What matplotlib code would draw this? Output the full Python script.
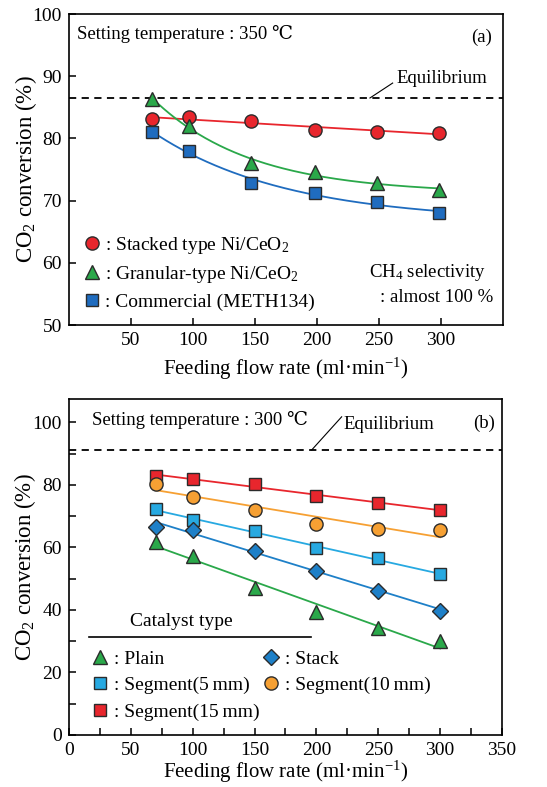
import numpy as np
import matplotlib
matplotlib.use("Agg")
import matplotlib.pyplot as plt
from matplotlib.ticker import MultipleLocator

plt.rcParams['font.family'] = ['Liberation Serif', 'DejaVu Serif']
plt.rcParams['mathtext.fontset'] = 'custom'
plt.rcParams['mathtext.rm'] = 'Liberation Serif'
plt.rcParams['mathtext.it'] = 'Liberation Serif:italic'

# ---------------- data (a) 350 C ----------------
flow_a = [67, 97, 147, 198, 248, 298]
stacked_a = [83.1, 83.4, 82.85, 81.35, 81.1, 80.9]
granular_a = [86.4, 82.0, 76.0, 74.6, 72.9, 71.7]
commercial_a = [81.0, 78.0, 72.8, 71.3, 69.7, 68.0]
equil_a = 86.5

# ---------------- data (b) 300 C ----------------
flow_b = [70, 100, 150, 200, 250, 300]
plain_b = [61.9, 57.4, 46.9, 39.5, 34.1, 30.2]
stack_b = [66.7, 65.6, 59.0, 52.6, 46.2, 39.8]
seg5_b = [72.3, 68.8, 65.2, 59.7, 56.5, 51.5]
seg10_b = [80.3, 76.3, 72.0, 67.5, 65.9, 65.5]
seg15_b = [83.0, 81.8, 80.2, 76.6, 74.1, 72.0]
equil_b = 91.2

RED = '#e8262d'
GREEN = '#2aa84a'
BLUE = '#1f6cbf'
LBLUE = '#27a9e1'
ORANGE = '#f6a033'
DBLUE = '#1e80c8'
EDGE = '#2b2b2b'


def exp_fit(x, y):
    x = np.asarray(x, float)
    y = np.asarray(y, float)
    best = None
    for c in np.linspace(0.002, 0.06, 600):
        A = np.column_stack([np.ones_like(x), np.exp(-c * x)])
        coef, *_ = np.linalg.lstsq(A, y, rcond=None)
        r = np.sum((A @ coef - y) ** 2)
        if best is None or r < best[0]:
            best = (r, c, coef)
    _, c, coef = best
    return lambda t: coef[0] + coef[1] * np.exp(-c * t)


def lin_fit(x, y):
    p = np.polyfit(x, y, 1)
    return lambda t: np.polyval(p, t)


fig = plt.figure(figsize=(5.47, 7.87), dpi=100)
ax1 = fig.add_axes([0.1261, 0.5870, 0.7935, 0.3952])
ax2 = fig.add_axes([0.1261, 0.0661, 0.7916, 0.4269])

FS_TICK = 14
FS_XLAB = 15
FS_YLAB = 16.5
FS_TXT = 13.5
FS_LEG = 14

for ax in (ax1, ax2):
    for s in ax.spines.values():
        s.set_linewidth(1.2)
    ax.tick_params(direction='in', length=5, width=1.1, labelsize=FS_TICK, pad=5)
    ax.tick_params(which='minor', direction='in', length=5, width=1.1)

ms = 9.5
# ---------------- panel (a) ----------------
xs = np.linspace(min(flow_a), max(flow_a), 200)
ax1.plot(xs, lin_fit(flow_a, stacked_a)(xs), color=RED, lw=1.3, zorder=2)
ax1.plot(xs, exp_fit(flow_a, granular_a)(xs), color=GREEN, lw=1.3, zorder=2)
ax1.plot(xs, exp_fit(flow_a, commercial_a)(xs), color=BLUE, lw=1.3, zorder=2)
h1, = ax1.plot(flow_a, stacked_a, 'o', ms=ms, mfc=RED, mec=EDGE, mew=1.0, ls='none', zorder=3)
h2, = ax1.plot(flow_a, granular_a, '^', ms=ms + 1, mfc=GREEN, mec=EDGE, mew=1.0, ls='none', zorder=3)
h3, = ax1.plot(flow_a, commercial_a, 's', ms=ms - 0.5, mfc=BLUE, mec=EDGE, mew=1.0, ls='none', zorder=3)
ax1.axhline(equil_a, color='black', lw=1.3, ls=(0, (4, 3)), zorder=1)
ax1.plot([242.7, 261], [equil_a, 88.9], color='black', lw=0.8)
ax1.text(264, 89.65, 'Equilibrium', fontsize=FS_TXT, ha='left', va='center')
ax1.text(0.018, 0.935, 'Setting temperature : 350 \u2103', transform=ax1.transAxes,
         fontsize=FS_TXT, ha='left', va='center')
ax1.text(0.975, 0.925, '(a)', transform=ax1.transAxes, fontsize=FS_TXT, ha='right', va='center')
ax1.text(0.960, 0.168, 'CH$_4$ selectivity', transform=ax1.transAxes, fontsize=FS_TXT,
         ha='right', va='center')
ax1.text(0.978, 0.088, ': almost 100 %', transform=ax1.transAxes, fontsize=FS_TXT,
         ha='right', va='center')
ax1.legend([h1, h2, h3],
           [': Stacked type Ni/CeO$_2$', ': Granular-type Ni/CeO$_2$', ': Commercial (METH134)'],
           loc='lower left', bbox_to_anchor=(0.030, 0.045), frameon=False, fontsize=FS_LEG,
           handlelength=1.0, handletextpad=0.2, labelspacing=0.42, borderpad=0, borderaxespad=0)
ax1.set_xlim(0, 350)
ax1.set_ylim(50, 100)
ax1.set_xticks([50, 100, 150, 200, 250, 300])
ax1.set_yticks([50, 60, 70, 80, 90, 100])
ax1.set_xlabel('Feeding flow rate (ml\u00b7min$^{-1}$)', fontsize=FS_XLAB, labelpad=5)
ax1.set_ylabel('CO$_2$ conversion (%)', fontsize=FS_YLAB)
ax1.yaxis.set_label_coords(-0.068, 0.5)

# ---------------- panel (b) ----------------
xs = np.linspace(min(flow_b), max(flow_b), 50)
series = [
    (plain_b, '^', GREEN, ms + 1, ': Plain'),
    (seg5_b, 's', LBLUE, ms - 1.5, ': Segment(5\u2009mm)'),
    (seg15_b, 's', RED, ms - 1.5, ': Segment(15\u2009mm)'),
    (stack_b, 'D', DBLUE, ms - 1.5, ': Stack'),
    (seg10_b, 'o', ORANGE, ms, ': Segment(10\u2009mm)'),
]
handles = []
labels = []
for y, m, c, s, lab in series:
    ax2.plot(xs, lin_fit(flow_b, y)(xs), color=c, lw=1.3, zorder=2)
for y, m, c, s, lab in series:
    h, = ax2.plot(flow_b, y, m, ms=s, mfc=c, mec=EDGE, mew=1.0, ls='none', zorder=3)
    handles.append(h)
    labels.append(lab)
ax2.axhline(equil_b, color='black', lw=1.3, ls=(0, (4, 3)), zorder=1)
ax2.plot([196.2, 220.4], [equil_b, 101.8], color='black', lw=0.8)
ax2.text(221.5, 99.4, 'Equilibrium', fontsize=FS_TXT, ha='left', va='center')
ax2.text(0.053, 0.937, 'Setting temperature : 300 \u2103', transform=ax2.transAxes,
         fontsize=FS_TXT, ha='left', va='center')
ax2.text(0.985, 0.927, '(b)', transform=ax2.transAxes, fontsize=FS_TXT, ha='right', va='center')
ax2.text(0.259, 0.337, 'Catalyst type', transform=ax2.transAxes, fontsize=FS_LEG,
         ha='center', va='center')
ax2.plot([0.046, 0.558], [0.2905, 0.2905], transform=ax2.transAxes, color='black', lw=1.2)
ax2.legend(handles, labels, ncol=2, loc='lower left', bbox_to_anchor=(0.05, 0.043),
           frameon=False, fontsize=FS_LEG, handlelength=1.0, handletextpad=0.2,
           labelspacing=0.45, columnspacing=0.1, borderpad=0, borderaxespad=0)
ax2.set_xlim(0, 350)
ax2.set_ylim(0, 107.5)
ax2.set_xticks(np.arange(0, 351, 50))
ax2.set_yticks(np.arange(0, 101, 20))
ax2.xaxis.set_minor_locator(MultipleLocator(25))
ax2.yaxis.set_minor_locator(MultipleLocator(10))
ax2.set_xlabel('Feeding flow rate (ml\u00b7min$^{-1}$)', fontsize=FS_XLAB, labelpad=0)
ax2.set_ylabel('CO$_2$ conversion (%)', fontsize=FS_YLAB)
ax2.yaxis.set_label_coords(-0.072, 0.5)

fig.savefig('out.png', dpi=100)
